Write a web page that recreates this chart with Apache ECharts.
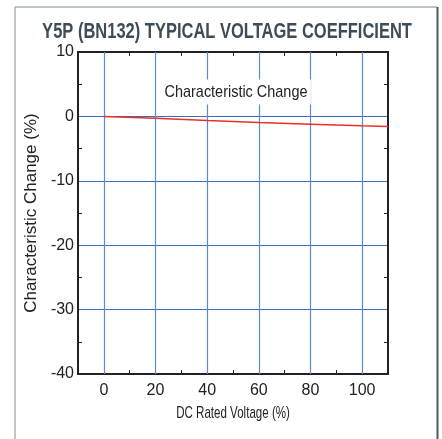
<!DOCTYPE html>
<html><head><meta charset="utf-8">
<script src="https://cdn.jsdelivr.net/npm/echarts@6/dist/echarts.min.js"></script>
<style>html,body{margin:0;padding:0;background:#fff}#c{width:442px;height:439px}</style>
</head><body><div id="c"></div>
<script>
var titleText = 'Y5P (BN132) TYPICAL VOLTAGE COEFFICIENT';
var seriesName = 'Characteristic Change';
var xName = 'DC Rated Voltage (%)';
var yName = 'Characteristic Change (%)';
var voltage = [0, 20, 40, 60, 80, 100, 110];
var change = [0, -0.3, -0.65, -0.95, -1.2, -1.45, -1.55];
var xGrid = [0, 20, 40, 60, 80, 100];
var xLabels = [0, 20, 40, 60, 80, 100];

var FONT = '"Liberation Sans", Arial, sans-serif';
var chart = echarts.init(document.getElementById('c'), null, {renderer: 'canvas'});
var blue = '#3d6fb6';
var markData = xGrid.map(function (v) { return {xAxis: v}; });
var option = {
  animation: false,
  graphic: [
    {type: 'line', shape: {x1: 15, y1: 7, x2: 437, y2: 7}, style: {stroke: '#a9b1b7', lineWidth: 1.5}, z: 1},
    {type: 'line', shape: {x1: 15, y1: 7, x2: 15, y2: 439}, style: {stroke: '#a9b1b7', lineWidth: 1.5}, z: 1},
    {type: 'line', shape: {x1: 437.5, y1: 7, x2: 437.5, y2: 439}, style: {stroke: '#4d5a64', lineWidth: 2}, z: 1},
    {type: 'text', x: 227, y: 32, scaleX: 0.75, z: 100,
      style: {text: titleText, fontFamily: FONT, fontWeight: 'bold', fontSize: 22, fill: '#3e4c57',
        align: 'center', verticalAlign: 'middle'}},
    {type: 'text', x: 236, y: 92, scaleX: 0.85, z: 100,
      style: {text: seriesName, fontFamily: FONT, fontSize: 17, fill: '#222',
        align: 'center', verticalAlign: 'middle', backgroundColor: '#fff', padding: [4, 4]}},
    {type: 'text', x: 233, y: 413, scaleX: 0.68, z: 100,
      style: {text: xName, fontFamily: FONT, fontSize: 17, fill: '#222',
        align: 'center', verticalAlign: 'middle'}}
  ],
  grid: {left: 78, right: 54, top: 52, bottom: 65},
  xAxis: [{
    type: 'value', min: -10, max: 110, interval: 10,
    axisLine: {show: true, onZero: false, lineStyle: {color: '#222', width: 2}},
    axisTick: {show: true, inside: true, length: 4, lineStyle: {color: '#222'}},
    axisLabel: {fontFamily: FONT, fontSize: 16, color: '#222', margin: 9,
      formatter: function (v) { return xLabels.indexOf(v) >= 0 ? String(v) : ''; }},
    splitLine: {show: false}
  }, {
    type: 'value', position: 'top', min: -10, max: 110, interval: 10,
    axisLine: {show: true, onZero: false, lineStyle: {color: '#222', width: 2}},
    axisTick: {show: true, inside: true, length: 4, lineStyle: {color: '#222'}},
    axisLabel: {show: false}, splitLine: {show: false}
  }],
  yAxis: [{
    type: 'value', min: -40, max: 10, interval: 10,
    name: yName, nameLocation: 'middle', nameGap: 27,
    nameTextStyle: {fontFamily: FONT, fontSize: 17, color: '#222'},
    axisLine: {show: true, onZero: false, lineStyle: {color: '#222', width: 2}},
    axisTick: {show: false, inside: true},
    minorTick: {show: true, splitNumber: 2, length: 4, lineStyle: {color: '#222'}},
    axisLabel: {fontFamily: FONT, fontSize: 16, color: '#222', margin: 4},
    splitLine: {show: true, lineStyle: {color: blue, width: 1.2}}
  }, {
    type: 'value', position: 'right', min: -40, max: 10, interval: 10,
    axisLine: {show: true, onZero: false, lineStyle: {color: '#222', width: 2}},
    axisTick: {show: false, inside: true},
    minorTick: {show: true, splitNumber: 2, length: 4, lineStyle: {color: '#222'}},
    axisLabel: {show: false}, splitLine: {show: false}
  }],
  series: [{
    name: seriesName, type: 'line', symbol: 'none', z: 10,
    data: voltage.map(function (v, i) { return [v, change[i]]; }),
    lineStyle: {color: '#e8302a', width: 1.5},
    markLine: {
      silent: true, symbol: 'none', label: {show: false},
      lineStyle: {type: 'solid', color: '#5a8ccc', width: 1.2},
      data: markData
    }
  }]
};
chart.setOption(option);
</script></body></html>
